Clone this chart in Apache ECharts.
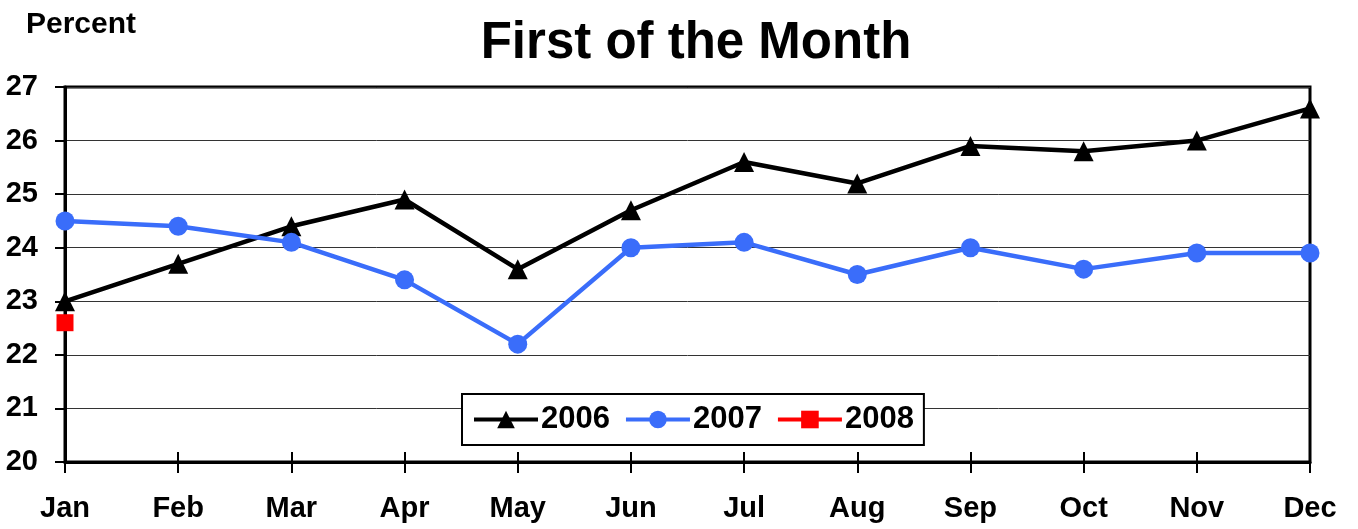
<!DOCTYPE html>
<html>
<head>
<meta charset="utf-8">
<script src="https://cdn.jsdelivr.net/npm/echarts@6/dist/echarts.min.js"></script>
<style>
html, body { margin: 0; padding: 0; background: #fff; }
#chart { width: 1358px; height: 529px; }
</style>
</head>
<body>
<div id="chart"></div>
<script>
const months = ['Jan', 'Feb', 'Mar', 'Apr', 'May', 'Jun', 'Jul', 'Aug', 'Sep', 'Oct', 'Nov', 'Dec'];
const y2006 = [23.0, 23.7, 24.4, 24.9, 23.6, 24.7, 25.6, 25.2, 25.9, 25.8, 26.0, 26.6];
const y2007 = [24.5, 24.4, 24.1, 23.4, 22.2, 24.0, 24.1, 23.5, 24.0, 23.6, 23.9, 23.9];
const y2008 = [22.6];

const font = 'Liberation Sans, Arial, sans-serif';
const chart = echarts.init(document.getElementById('chart'));

function line(name, data, color, symbol, size) {
	return {
		name: name,
		type: 'line',
		data: data,
		symbol: symbol,
		symbolSize: size,
		showAllSymbol: true,
		lineStyle: { color: color, width: 4.5 },
		itemStyle: { color: color },
		z: 5
	};
}

chart.setOption({
	animation: false,
	textStyle: { fontFamily: font },
	title: [
		{
			text: 'First of the Month',
			left: 691, top: 13,
			textAlign: 'center',
			textStyle: { fontSize: 51, fontWeight: 'bold', color: '#000', fontFamily: font }
		},
		{
			text: 'Percent',
			left: 21, top: 5,
			textStyle: { fontSize: 30, fontWeight: 'bold', color: '#000', fontFamily: font }
		}
	],
	grid: {
		left: 65, right: 48, top: 87, bottom: 67,
		show: true,
		borderColor: '#000',
		borderWidth: 3
	},
	legend: {
		left: 462, top: 394,
		data: ['2006', '2007', '2008'],
		itemWidth: 64,
		itemHeight: 22,
		itemGap: 14,
		padding: [10, 10],
		backgroundColor: '#fff',
		borderColor: '#000',
		borderWidth: 2,
		borderRadius: 0,
		lineStyle: { width: 4 },
		textStyle: { fontSize: 31, fontWeight: 'bold', color: '#000', fontFamily: font, padding: [0, 0, 0, -2] }
	},
	xAxis: [
		{
			type: 'category',
			data: months,
			boundaryGap: false,
			axisLine: { lineStyle: { color: '#000', width: 3 } },
			axisTick: { show: true, length: 11, lineStyle: { color: '#000', width: 2 } },
			axisLabel: { fontSize: 29, fontWeight: 'bold', color: '#000', margin: 32, fontFamily: font },
			splitLine: { show: false }
		},
		{
			type: 'category',
			data: months,
			position: 'bottom',
			boundaryGap: false,
			axisLine: { show: false },
			axisTick: { show: true, inside: true, length: 10, lineStyle: { color: '#000', width: 2 } },
			axisLabel: { show: false },
			splitLine: { show: false }
		}
	],
	yAxis: {
		type: 'value',
		min: 20, max: 27, interval: 1,
		axisLine: { show: true, lineStyle: { color: '#000', width: 3 } },
		axisTick: { show: true, length: 10, lineStyle: { color: '#000', width: 2 } },
		axisLabel: { fontSize: 29, fontWeight: 'bold', color: '#000', margin: 27, fontFamily: font },
		splitLine: { show: true, lineStyle: { color: '#333', width: 1 } }
	},
	series: [
		line('2006', y2006, '#000000', 'triangle', 20),
		line('2007', y2007, '#3a6dfa', 'circle', 19),
		line('2008', y2008, '#ff0000', 'rect', 17)
	]
});
</script>
</body>
</html>
